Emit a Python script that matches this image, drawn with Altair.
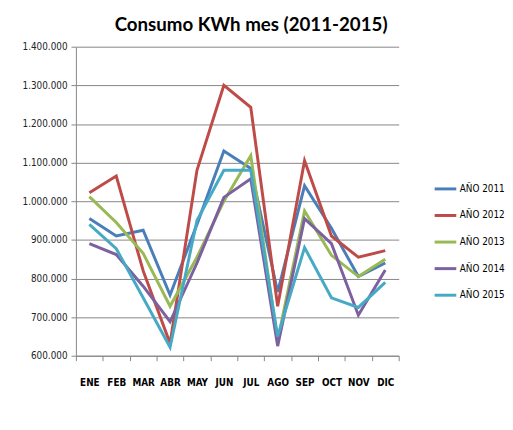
import altair as alt
import pandas as pd

months = ["ENE", "FEB", "MAR", "ABR", "MAY", "JUN", "JUL", "AGO", "SEP", "OCT", "NOV", "DIC"]
series_names = ["AÑO 2011", "AÑO 2012", "AÑO 2013", "AÑO 2014", "AÑO 2015"]
y2011 = [955000, 910000, 925000, 757000, 940000, 1130000, 1085000, 765000, 1040000, 930000, 805000, 840000]
y2012 = [1022000, 1065000, 820000, 632000, 1080000, 1300000, 1243000, 728000, 1105000, 910000, 855000, 872000]
y2013 = [1012000, 945000, 865000, 728000, 855000, 1000000, 1118000, 640000, 975000, 860000, 805000, 850000]
y2014 = [890000, 862000, 780000, 688000, 840000, 1010000, 1058000, 625000, 955000, 890000, 705000, 822000]
y2015 = [940000, 877000, 750000, 622000, 950000, 1080000, 1080000, 650000, 880000, 750000, 725000, 790000]
colors = ["#4A7EBB", "#BE4B48", "#98B954", "#7D60A0", "#46AAC5"]
y_ticks = [600000, 700000, 800000, 900000, 1000000, 1100000, 1200000, 1300000, 1400000]

rows = []
for name, vals in zip(series_names, [y2011, y2012, y2013, y2014, y2015]):
    for m, v in zip(months, vals):
        rows.append({"mes": m, "serie": name, "kwh": v})
df = pd.DataFrame(rows)

narrow = "DejaVu Sans Condensed"

chart = alt.Chart(df).mark_line(strokeWidth=3).encode(
    x=alt.X("mes:N", sort=months, bandPosition=0.5,
            scale=alt.Scale(type="band", paddingInner=0, paddingOuter=0),
            axis=alt.Axis(title=None, labelAngle=0, tickBand="extent", grid=False,
                          domainColor="#868686", tickColor="#868686", tickSize=5,
                          labelFont=narrow, labelFontWeight="bold",
                          labelFontSize=10, labelColor="#000000", labelPadding=17)),
    y=alt.Y("kwh:Q", scale=alt.Scale(domain=[600000, 1400000], nice=False, zero=False),
            axis=alt.Axis(title=None, values=y_ticks, format=",d",
                          domainColor="#868686", tickColor="#868686", tickSize=5,
                          gridColor="#868686", gridWidth=1, gridOpacity=1,
                          labelFont=narrow, labelFontSize=10,
                          labelColor="#222222", labelPadding=4)),
    color=alt.Color("serie:N", sort=series_names,
                    scale=alt.Scale(domain=series_names, range=colors),
                    legend=alt.Legend(title=None, orient="none", legendX=363, legendY=132,
                                      symbolType="stroke", symbolSize=484, symbolStrokeWidth=3,
                                      labelFont=narrow, labelFontSize=10,
                                      labelColor="#000000", labelOffset=2, rowPadding=8,
                                      padding=0)),
).properties(
    width=328, height=314,
    title=alt.TitleParams("Consumo KWh mes (2011-2015)", font="Lato", fontSize=19,
                          fontWeight="bold", color="#000000", dx=14, offset=7),
    autosize=alt.AutoSizeParams(type="none"),
    padding={"left": 69, "top": 36, "right": 108, "bottom": 64},
).configure(
    locale={"number": {"decimal": ",", "thousands": ".", "grouping": [3], "currency": ["$", ""]}},
).configure_view(stroke=None)

chart.save("out.html", embed_options={"renderer": "svg", "actions": False})
